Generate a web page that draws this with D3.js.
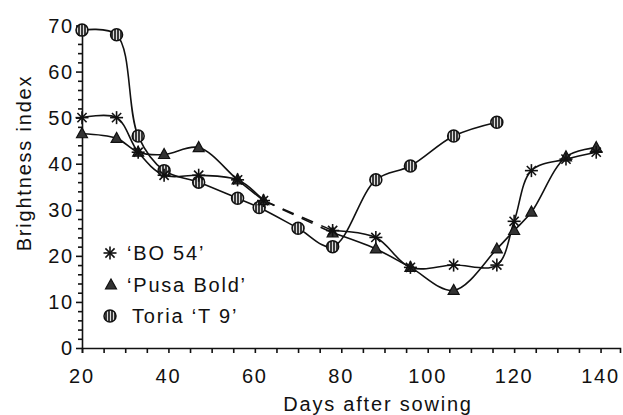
<html>
    <head>
        <script src = "https://d3js.org/d3.v7.min.js"></script>
        <style>
            body { margin: 0; background: #fff; }
            text { font-family: 'Liberation Sans', Arial, sans-serif; fill: #111; letter-spacing: 1.8px; }
        </style>
    </head>
    <body>
        <svg id = 'chart' width = 623 height = 415></svg>
        <script>
            // values
            const boDays = [20, 28, 33, 39, 47, 56, 62, 78, 88, 96, 106, 116, 120, 124, 132, 139];
            const boValues = [50, 50, 42.5, 37.5, 37.5, 36.5, 32, 25.5, 24, 17.5, 18, 18, 27.5, 38.5, 41, 42.5];
            const pusaDays = [20, 28, 33, 39, 47, 56, 62, 78, 88, 96, 106, 116, 120, 124, 132, 139];
            const pusaValues = [46.5, 45.5, 42.5, 42, 43.5, 36.5, 32, 25, 21.5, 17.5, 12.5, 21.5, 25.5, 29.5, 41.5, 43.5];
            const toriaDays = [20, 28, 33, 39, 47, 56, 61, 70, 78, 88, 96, 106, 116];
            const toriaValues = [69, 68, 46, 38.5, 36, 32.5, 30.5, 26, 22, 36.5, 39.5, 46, 49];
            // BO 54 and Pusa Bold are dashed between these two days
            const gapFrom = 62, gapTo = 78;

            const xTicks = d3.range(20, 145, 5);
            const xLabels = [20, 40, 60, 80, 100, 120, 140];
            const yTicks = d3.range(0, 72, 2);
            const yLabels = [0, 10, 20, 30, 40, 50, 60, 70];
            const legendNames = ["\u2018BO 54\u2019", "\u2018Pusa Bold\u2019", "Toria \u2018T 9\u2019"];

            const svg = d3.select('svg#chart');

            const x = d3.scaleLinear().domain([20, 144.5]).range([82, 620]);
            const y = d3.scaleLinear().domain([0, 70]).range([348, 25.5]);

            const defs = svg.append('defs');
            const pat = defs.append('pattern').attr('id', 'hatch')
                            .attr('patternUnits', 'userSpaceOnUse')
                            .attr('width', 3).attr('height', 3);
            pat.append('rect').attr('width', 3).attr('height', 3).attr('fill', '#ddd');
            pat.append('line').attr('x1', 1).attr('x2', 1).attr('y1', 0).attr('y2', 3)
               .attr('stroke', '#111').attr('stroke-width', 1.6);

            // axes
            const xAxis = svg.append('g').attr('transform', `translate(0, ${y(0)})`)
                             .call(d3.axisBottom(x).tickValues(xTicks).tickSize(5).tickFormat(''));
            const yAxis = svg.append('g').attr('transform', `translate(${x(20)}, 0)`)
                             .call(d3.axisLeft(y).tickValues(yTicks).tickSize(4).tickFormat('').tickSizeOuter(0));
            yAxis.selectAll('.tick line').attr('x2', d => d % 10 === 0 ? -6 : -4);
            svg.selectAll('.domain, .tick line').attr('stroke', '#111').attr('stroke-width', 1.6);

            svg.append('g').selectAll('text').data(xLabels).join('text')
               .attr('x', d => x(d)).attr('y', 383)
               .attr('text-anchor', 'middle').attr('font-size', 20)
               .text(d => d);
            svg.append('g').selectAll('text').data(yLabels).join('text')
               .attr('x', 74).attr('y', d => y(d) + 7)
               .attr('text-anchor', 'end').attr('font-size', 20)
               .text(d => d);

            svg.append('text').attr('x', 378).attr('y', 411)
               .attr('text-anchor', 'middle').attr('font-size', 20)
               .text('Days after sowing');
            svg.append('text').attr('transform', 'translate(31, 163) rotate(-90)')
               .attr('text-anchor', 'middle').attr('font-size', 20)
               .text('Brightness index');

            // lines
            const smooth = d3.line().x(d => x(d[0])).y(d => y(d[1])).curve(d3.curveCatmullRom.alpha(0.5));
            const plain = d3.line().x(d => x(d[0])).y(d => y(d[1]));
            const lines = svg.append('g').attr('fill', 'none').attr('stroke', '#111').attr('stroke-width', 1.6);

            function drawSeries(days, values, gapped) {
                let pts = days.map((d, i) => [d, values[i]]);
                if (gapped) {
                    let a = pts.filter(p => p[0] <= gapFrom);
                    let b = pts.filter(p => p[0] >= gapTo);
                    lines.append('path').attr('d', smooth(a));
                    lines.append('path').attr('d', smooth(b));
                    lines.append('path').attr('d', plain([a[a.length - 1], b[0]]))
                         .attr('stroke-dasharray', '12,9');
                } else {
                    lines.append('path').attr('d', smooth(pts));
                }
                return pts;
            }
            const boPts = drawSeries(boDays, boValues, true);
            const pusaPts = drawSeries(pusaDays, pusaValues, true);
            const toriaPts = drawSeries(toriaDays, toriaValues, false);

            // markers
            function asterisk(g, cx, cy) {
                [0, 45, 90, 135].forEach(a => {
                    let r = 6.5, t = a * Math.PI / 180;
                    g.append('line')
                     .attr('x1', cx - r * Math.cos(t)).attr('y1', cy - r * Math.sin(t))
                     .attr('x2', cx + r * Math.cos(t)).attr('y2', cy + r * Math.sin(t))
                     .attr('stroke', '#111').attr('stroke-width', 1.6);
                });
            }
            function triangle(g, cx, cy) {
                g.append('path')
                 .attr('d', `M${cx},${cy - 6} L${cx + 5.5},${cy + 4} L${cx - 5.5},${cy + 4} Z`)
                 .attr('fill', '#333').attr('stroke', '#111').attr('stroke-width', 1.2);
            }
            function circle(g, cx, cy) {
                g.append('circle').attr('cx', cx).attr('cy', cy).attr('r', 6)
                 .attr('fill', 'url(#hatch)').attr('stroke', '#111').attr('stroke-width', 1.5);
            }

            const marks = svg.append('g');
            toriaPts.forEach(p => circle(marks, x(p[0]), y(p[1])));
            pusaPts.forEach(p => triangle(marks, x(p[0]), y(p[1])));
            boPts.forEach(p => asterisk(marks, x(p[0]), y(p[1])));

            // legend
            const legend = svg.append('g');
            const legendY = [253, 285, 316];
            asterisk(legend, 110, legendY[0]);
            triangle(legend, 111, legendY[1]);
            circle(legend, 110, legendY[2]);
            legend.selectAll('text').data(legendNames).join('text')
                  .attr('x', (d, i) => i === 2 ? 132 : 127)
                  .attr('y', (d, i) => legendY[i] + 7)
                  .attr('font-size', 20)
                  .text(d => d);
        </script>
    </body>
</html>
